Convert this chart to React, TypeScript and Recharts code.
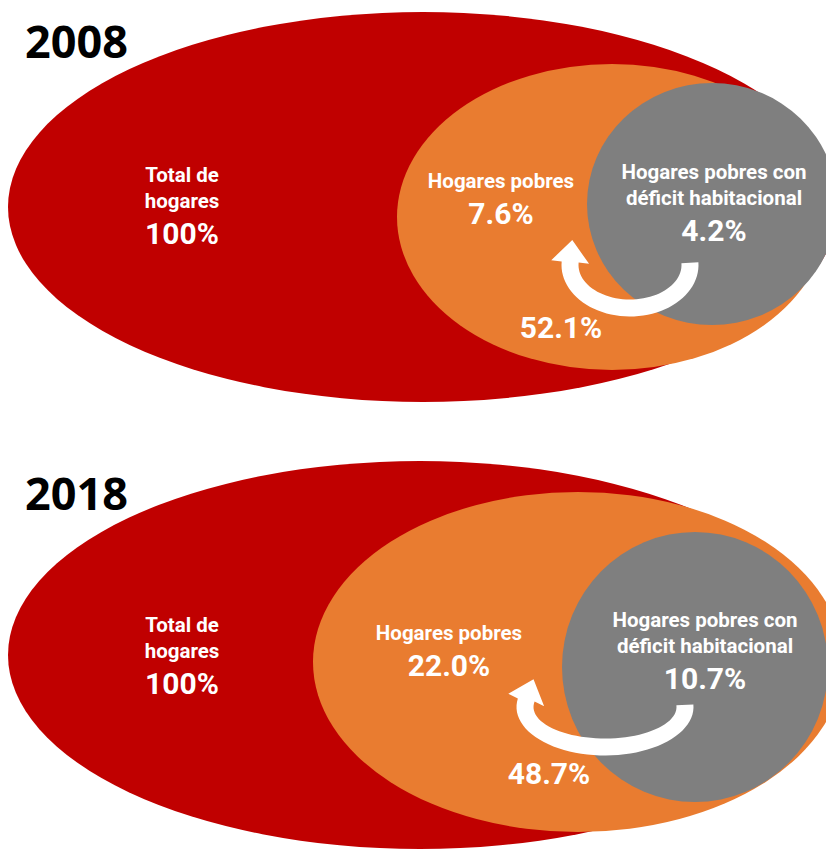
import React from 'react';
import { ScatterChart, Scatter, XAxis, YAxis } from 'recharts';

const W = 826;
const H = 850;

// datos (porcentaje de hogares)
const years = ['2008', '2018'];
const totalPct = [100, 100];
const poorPct = [7.6, 22.0];
const deficitPct = [4.2, 10.7];
const deficitOfPoorPct = [52.1, 48.7];
const groupLabels = [
  ['Total de', 'hogares'],
  ['Hogares pobres'],
  ['Hogares pobres con', 'déficit habitacional'],
];
const groupColors = ['#C00000', '#E97C30', '#7F7F7F'];

// geometría del diagrama, en px (el eje va 1:1 con el lienzo)
const panels = [
  {
    title: { x: 25, y: 58 },
    ellipses: [
      { cx: 423, cy: 207, rx: 415, ry: 195 },
      { cx: 612, cy: 217, rx: 215, ry: 153 },
      { cx: 712, cy: 204, rx: 125, ry: 121 },
    ],
    labels: [{ x: 182, y: 182 }, { x: 501, y: 188 }, { x: 714, y: 179 }],
    arrow: { cx: 630, cy: 265, rx: 60, ry: 43, from: -3, to: 184 },
    arrowLabel: { x: 561, y: 338 },
  },
  {
    title: { x: 25, y: 510 },
    ellipses: [
      { cx: 420, cy: 655, rx: 412, ry: 194 },
      { cx: 578, cy: 662, rx: 265, ry: 170 },
      { cx: 695, cy: 667, rx: 133, ry: 135 },
    ],
    labels: [{ x: 182, y: 632 }, { x: 449, y: 640 }, { x: 705, y: 627 }],
    arrow: { cx: 605, cy: 707, rx: 80, ry: 40, from: -3, to: 190 },
    arrowLabel: { x: 549, y: 784 },
  },
];

const FONT = "Roboto, 'Noto Sans', sans-serif";
const fmt = (v: number, d: number) => `${v.toFixed(d)}%`;

// capas: primero elipses grandes, luego las de adentro
const ellipseData: any[] = [];
[0, 1, 2].forEach((g) => {
  panels.forEach((p) => {
    const e = p.ellipses[g];
    ellipseData.push({ x: e.cx, y: e.cy, rx: e.rx, ry: e.ry, fill: groupColors[g] });
  });
});

const arrowData = panels.map((p) => ({ x: p.arrow.cx, y: p.arrow.cy, ...p.arrow }));

const textData: any[] = [];
panels.forEach((p, i) => {
  const values = [fmt(totalPct[i], 0), fmt(poorPct[i], 1), fmt(deficitPct[i], 1)];
  textData.push({ x: p.title.x, y: p.title.y, kind: 'title', text: years[i] });
  p.labels.forEach((l, g) => {
    textData.push({ x: l.x, y: l.y, kind: 'group', lines: groupLabels[g], value: values[g] });
  });
  textData.push({ x: p.arrowLabel.x, y: p.arrowLabel.y, kind: 'pct', text: fmt(deficitOfPoorPct[i], 1) });
});

const EllipseShape = (props: any) => {
  const { cx, cy, payload } = props;
  return <ellipse cx={cx} cy={cy} rx={payload.rx} ry={payload.ry} fill={payload.fill} />;
};

const ArrowShape = (props: any) => {
  const { cx, cy, payload: a } = props;
  const w = 17;
  const headW = 38;
  const headL = 22;
  const n = 48;
  const rad = (d: number) => (d * Math.PI) / 180;
  const outer: string[] = [];
  const inner: string[] = [];
  for (let i = 0; i <= n; i++) {
    const t = rad(a.from + ((a.to - a.from) * i) / n);
    outer.push(`${cx + (a.rx + w / 2) * Math.cos(t)},${cy + (a.ry + w / 2) * Math.sin(t)}`);
    inner.push(`${cx + (a.rx - w / 2) * Math.cos(t)},${cy + (a.ry - w / 2) * Math.sin(t)}`);
  }
  const te = rad(a.to);
  const ex = cx + a.rx * Math.cos(te);
  const ey = cy + a.ry * Math.sin(te);
  let tx = -a.rx * Math.sin(te);
  let ty = a.ry * Math.cos(te);
  const len = Math.hypot(tx, ty);
  tx /= len;
  ty /= len;
  const nx = ty;
  const ny = -tx;
  const head = [
    `${ex + (nx * headW) / 2},${ey + (ny * headW) / 2}`,
    `${ex + tx * headL},${ey + ty * headL}`,
    `${ex - (nx * headW) / 2},${ey - (ny * headW) / 2}`,
  ];
  const d = `M${outer.join('L')}L${head.join('L')}L${inner.reverse().join('L')}Z`;
  return <path d={d} fill="#FFFFFF" />;
};

const TextShape = (props: any) => {
  const { cx, cy, payload } = props;
  if (payload.kind === 'title') {
    return (
      <text x={cx} y={cy} fill="#000" fontFamily="'Open Sans', sans-serif" fontWeight={700} fontSize={45}>
        {payload.text}
      </text>
    );
  }
  if (payload.kind === 'pct') {
    return (
      <text x={cx} y={cy} fill="#fff" textAnchor="middle" fontFamily={FONT} fontWeight={700} fontSize={30}>
        {payload.text}
      </text>
    );
  }
  const lh = 26;
  return (
    <text fill="#fff" textAnchor="middle" fontFamily={FONT} fontWeight={700}>
      {payload.lines.map((l: string, i: number) => (
        <tspan key={i} x={cx} y={cy + i * lh} fontSize={20.5}>
          {l}
        </tspan>
      ))}
      <tspan x={cx} y={cy + (payload.lines.length - 1) * lh + 36} fontSize={30}>
        {payload.value}
      </tspan>
    </text>
  );
};

export default function App() {
  return (
    <div style={{ position: 'absolute', left: 0, top: 0, width: W, height: H, background: '#fff' }}>
      <ScatterChart width={W} height={H} margin={{ top: 0, right: 0, bottom: 0, left: 0 }}>
        <XAxis type="number" dataKey="x" domain={[0, W]} hide />
        <YAxis type="number" dataKey="y" domain={[0, H]} reversed hide />
        <Scatter data={ellipseData} shape={EllipseShape} isAnimationActive={false} />
        <Scatter data={arrowData} shape={ArrowShape} isAnimationActive={false} />
        <Scatter data={textData} shape={TextShape} isAnimationActive={false} />
      </ScatterChart>
    </div>
  );
}
